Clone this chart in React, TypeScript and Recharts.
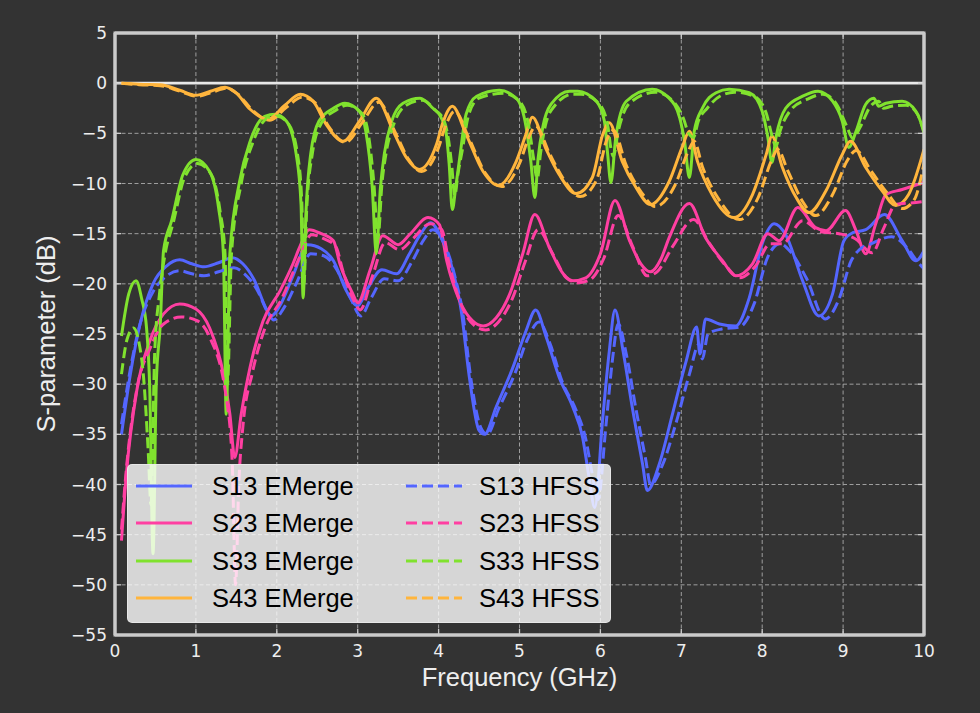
import React from 'react';
import {
  LineChart,
  Line,
  XAxis,
  YAxis,
  CartesianGrid,
  ReferenceLine,
  ReferenceArea,
  Legend,
  Label,
} from 'recharts';

// ---- Frequency sweep data (GHz) and S-parameter magnitudes (dB) ----

const s13EmFreq = [0.08, 0.19, 0.31, 0.47, 0.64, 0.8, 0.95, 1.1, 1.28, 1.45, 1.58, 1.72, 1.87, 1.93, 2.05, 2.2, 2.38, 2.55, 2.7, 2.86, 3.0, 3.12, 3.3, 3.48, 3.64, 3.78, 3.9, 4.03, 4.18, 4.28, 4.38, 4.5, 4.57, 4.71, 4.92, 5.08, 5.2, 5.33, 5.49, 5.66, 5.78, 5.86, 5.93, 6.03, 6.11, 6.18, 6.28, 6.4, 6.52, 6.58, 6.73, 6.89, 7.06, 7.19, 7.23, 7.3, 7.47, 7.67, 7.84, 8.0, 8.15, 8.29, 8.5, 8.7, 8.87, 9.01, 9.12, 9.28, 9.51, 9.73, 9.9, 10.0];
const s13EmDb = [-35, -29, -24, -20, -18.2, -17.6, -18.0, -18.3, -17.9, -17.4, -18.0, -19.6, -22.5, -23.2, -22.0, -19.2, -16.1, -16.5, -17.7, -20.7, -22.2, -20.5, -18.6, -19.0, -17.0, -15.0, -13.9, -15.4, -18.8, -22.7, -29.3, -34.6, -35.0, -32.3, -28.3, -24.7, -22.6, -25.3, -29.3, -32.3, -35.3, -39.3, -42.3, -33.3, -26.7, -22.6, -26.7, -32.6, -37.9, -40.6, -37.9, -33, -27.7, -24.3, -27, -23.5, -24, -24.2, -21.4, -16, -14, -15.1, -19.7, -23.2, -21, -15.7, -14.9, -14.6, -13.1, -15.7, -17.7, -16.7];

const s13HfFreq = [0.08, 0.19, 0.31, 0.47, 0.64, 0.8, 0.95, 1.1, 1.28, 1.47, 1.6, 1.75, 1.9, 1.96, 2.08, 2.25, 2.42, 2.58, 2.72, 2.9, 3.04, 3.16, 3.33, 3.5, 3.67, 3.81, 3.93, 4.06, 4.2, 4.3, 4.4, 4.52, 4.6, 4.74, 4.95, 5.1, 5.24, 5.37, 5.53, 5.7, 5.82, 5.9, 5.97, 6.07, 6.15, 6.22, 6.32, 6.44, 6.56, 6.62, 6.77, 6.93, 7.1, 7.22, 7.26, 7.33, 7.5, 7.72, 7.9, 8.06, 8.22, 8.35, 8.55, 8.78, 8.95, 9.1, 9.2, 9.35, 9.6, 9.8, 9.92, 10.0];
const s13HfDb = [-34, -28.5, -24, -20.8, -19.2, -18.7, -19.0, -19.2, -18.8, -18.4, -19.0, -20.5, -23.0, -23.6, -22.5, -19.8, -17.0, -17.2, -18.3, -21.2, -23.2, -21.5, -19.5, -19.7, -17.8, -15.7, -14.6, -15.8, -19.2, -23, -29.5, -34.3, -35.0, -32.5, -28.8, -25.5, -23.8, -25.8, -29.8, -32.6, -35.5, -39, -41.5, -34, -27.5, -24, -27, -32.5, -37.5, -40.0, -38, -34, -29, -26, -27.5, -25, -24.5, -24.3, -22, -17.5, -16, -16.8, -19.5, -23.5, -21.5, -17.7, -16.6, -16.0, -15.3, -16.5, -17.8, -18.5];

const s23EmFreq = [0.08, 0.14, 0.27, 0.43, 0.6, 0.8, 1.0, 1.17, 1.34, 1.42, 1.48, 1.56, 1.67, 1.83, 2.04, 2.2, 2.28, 2.4, 2.55, 2.7, 2.78, 2.94, 3.0, 3.15, 3.31, 3.5, 3.64, 3.87, 4.01, 4.1, 4.26, 4.42, 4.55, 4.71, 4.88, 5.04, 5.19, 5.37, 5.54, 5.66, 5.82, 6.0, 6.18, 6.36, 6.5, 6.62, 6.75, 6.85, 7.1, 7.3, 7.51, 7.67, 7.88, 8.07, 8.21, 8.44, 8.66, 8.79, 9.03, 9.16, 9.28, 9.4, 9.53, 9.73, 10.0];
const s23EmDb = [-45.6, -39, -30.6, -25.7, -23, -22, -22.5, -24.4, -29, -33, -37.3, -33, -28.3, -23.7, -20.7, -18, -16.4, -14.6, -15.0, -15.7, -18, -21, -21.9, -18.7, -15.2, -16.1, -15.1, -13.4, -14.1, -17.7, -21.7, -23.7, -24.2, -23.4, -21, -17, -13.1, -16.4, -19, -19.7, -19.4, -17, -11.7, -15.7, -18.0, -18.8, -17.5, -15.4, -12, -15.4, -17.7, -19.2, -18, -15, -15.7, -12.4, -14.4, -14.7, -12.7, -14.7, -17, -14.1, -11.1, -10.6, -9.9];

const s23HfFreq = [0.08, 0.14, 0.27, 0.43, 0.6, 0.82, 1.02, 1.17, 1.38, 1.45, 1.49, 1.53, 1.58, 1.7, 1.85, 2.06, 2.22, 2.3, 2.43, 2.58, 2.73, 2.82, 2.96, 3.03, 3.18, 3.34, 3.52, 3.67, 3.9, 4.04, 4.13, 4.29, 4.45, 4.58, 4.74, 4.91, 5.07, 5.23, 5.41, 5.58, 5.72, 5.87, 6.04, 6.22, 6.4, 6.58, 6.7, 6.9, 7.15, 7.35, 7.55, 7.72, 7.92, 8.1, 8.25, 8.5, 8.72, 8.95, 9.15, 9.36, 9.5, 9.65, 9.9, 10.0];
const s23HfDb = [-44.5, -38.5, -30.5, -26.5, -24, -23.3, -23.7, -25.3, -31.6, -38, -50, -40, -34.3, -28.8, -24.5, -21.5, -18.5, -17, -15.1, -15.5, -16.3, -18.8, -21.8, -22.6, -19.3, -15.9, -16.6, -15.6, -14.0, -14.6, -18.0, -22.3, -24.2, -24.6, -23.8, -21.5, -17.8, -14.6, -17.0, -19.4, -19.9, -19.6, -17.5, -13.2, -16.3, -19.2, -18.8, -16.2, -13.6, -16, -18.2, -19.4, -18.2, -16.0, -16.0, -13.7, -14.8, -15.0, -15.5, -16.9, -14.5, -12.1, -11.9, -11.8];

const s33EmFreq = [0.08, 0.17, 0.26, 0.33, 0.39, 0.43, 0.47, 0.51, 0.56, 0.6, 0.7, 0.84, 1.0, 1.17, 1.28, 1.34, 1.375, 1.42, 1.54, 1.67, 1.85, 1.98, 2.12, 2.24, 2.3, 2.325, 2.36, 2.42, 2.52, 2.7, 2.84, 3.02, 3.1, 3.18, 3.23, 3.28, 3.33, 3.42, 3.56, 3.77, 3.93, 4.03, 4.09, 4.13, 4.17, 4.21, 4.26, 4.34, 4.47, 4.75, 4.96, 5.08, 5.14, 5.19, 5.23, 5.29, 5.39, 5.62, 5.72, 5.95, 6.05, 6.09, 6.13, 6.19, 6.32, 6.64, 6.85, 6.98, 7.04, 7.1, 7.16, 7.26, 7.43, 7.59, 7.84, 8.0, 8.07, 8.12, 8.17, 8.29, 8.5, 8.69, 8.87, 8.99, 9.07, 9.16, 9.28, 9.38, 9.44, 9.53, 9.73, 9.9, 10.0];
const s33EmDb = [-25.2, -21, -19.7, -21.5, -24.4, -30.6, -46.9, -30, -24, -16.7, -13.7, -9.1, -7.6, -8.8, -12.4, -17, -33, -17, -9.8, -5.8, -3.3, -3.1, -3.8, -7.1, -12.1, -21.4, -13, -7, -3.8, -2.5, -2.0, -2.8, -4.8, -10.4, -17, -10.5, -7, -3.8, -2.0, -1.5, -2.5, -3.4, -4.8, -8, -12.6, -10.5, -7.5, -3.1, -1.3, -0.7, -1.5, -4.3, -7.8, -11.4, -7.5, -4.3, -2.1, -0.8, -0.8, -1.8, -3.8, -7.1, -9.9, -5.4, -1.8, -0.6, -1.5, -3.45, -5.8, -9.4, -4.8, -2.5, -0.95, -0.6, -0.95, -2.8, -5.4, -7.9, -5.4, -2.5, -1.3, -0.8, -1.8, -3.8, -6.4, -4.8, -2.1, -1.5, -2.3, -2.0, -1.8, -2.8, -4.8];

const s33HfFreq = [0.08, 0.15, 0.23, 0.3, 0.35, 0.41, 0.445, 0.49, 0.55, 0.62, 0.72, 0.86, 1.02, 1.19, 1.3, 1.36, 1.39, 1.44, 1.56, 1.7, 1.88, 2.0, 2.14, 2.26, 2.31, 2.335, 2.37, 2.44, 2.55, 2.73, 2.87, 3.05, 3.13, 3.2, 3.25, 3.3, 3.35, 3.45, 3.6, 3.8, 3.96, 4.06, 4.12, 4.16, 4.2, 4.24, 4.29, 4.37, 4.5, 4.8, 5.0, 5.12, 5.17, 5.22, 5.26, 5.32, 5.43, 5.66, 5.76, 5.99, 6.09, 6.13, 6.16, 6.22, 6.36, 6.68, 6.9, 7.03, 7.09, 7.15, 7.21, 7.32, 7.5, 7.66, 7.9, 8.05, 8.12, 8.17, 8.22, 8.35, 8.56, 8.75, 8.92, 9.04, 9.12, 9.21, 9.33, 9.44, 9.5, 9.6, 9.78, 9.92, 10.0];
const s33HfDb = [-29, -25.5, -24.4, -26, -29, -36.6, -42, -27, -21, -17, -13.9, -9.4, -8.0, -9.1, -12.8, -17, -30, -17, -10, -6, -3.5, -3.3, -4.0, -7.3, -12, -20, -12.5, -7, -4, -2.7, -2.2, -3.0, -5, -10, -15.5, -10, -7, -4, -2.2, -1.7, -2.7, -3.6, -5.5, -8, -11.2, -9, -6.8, -3.2, -1.5, -1.0, -1.8, -4.5, -7.3, -9.5, -7, -4.2, -2.3, -1.1, -1.1, -2.1, -4.2, -6.5, -7.3, -4.8, -2.0, -0.9, -1.8, -3.6, -5.0, -5.4, -3.8, -2.5, -1.2, -0.9, -1.3, -3.0, -5.2, -6.3, -4.8, -2.7, -1.6, -1.1, -2.1, -4.2, -5.5, -4.4, -2.4, -1.8, -2.5, -2.3, -2.2, -3.1, -5.0];

const s43EmFreq = [0.08, 0.3, 0.56, 0.8, 1.0, 1.18, 1.36, 1.5, 1.67, 1.89, 2.1, 2.29, 2.45, 2.61, 2.82, 3.02, 3.23, 3.44, 3.6, 3.76, 3.97, 4.05, 4.17, 4.34, 4.55, 4.74, 4.96, 5.08, 5.16, 5.33, 5.49, 5.7, 5.9, 6.03, 6.11, 6.27, 6.44, 6.62, 6.85, 7.01, 7.1, 7.2, 7.38, 7.65, 7.88, 8.05, 8.12, 8.25, 8.42, 8.58, 8.79, 8.99, 9.09, 9.28, 9.48, 9.65, 9.81, 10.0];
const s43EmDb = [0, -0.1, -0.15, -0.7, -1.2, -0.8, -0.4, -1.0, -2.6, -3.6, -2.2, -1.1, -1.8, -4.1, -5.8, -3.8, -1.5, -4.8, -7.4, -8.6, -6.2, -4.0, -2.3, -5.1, -8.8, -10.2, -7.8, -5.1, -3.4, -6.6, -9.1, -11.0, -9.4, -5.1, -3.95, -7.8, -10.4, -12.1, -9.8, -6.4, -4.8, -7.8, -11.1, -13.4, -11.1, -7.1, -5.3, -8.4, -11.4, -12.9, -10.7, -7.1, -5.8, -8.4, -10.7, -12.2, -11.1, -6.6];

const s43HfFreq = [0.08, 0.3, 0.56, 0.8, 1.02, 1.2, 1.38, 1.52, 1.7, 1.91, 2.12, 2.31, 2.48, 2.64, 2.85, 3.05, 3.26, 3.47, 3.63, 3.79, 4.0, 4.08, 4.2, 4.37, 4.58, 4.78, 5.0, 5.12, 5.2, 5.37, 5.54, 5.75, 5.95, 6.08, 6.16, 6.32, 6.5, 6.68, 6.92, 7.08, 7.16, 7.26, 7.45, 7.72, 7.95, 8.12, 8.19, 8.32, 8.5, 8.66, 8.87, 9.06, 9.16, 9.35, 9.55, 9.73, 9.88, 10.0];
const s43HfDb = [0, -0.15, -0.25, -0.8, -1.3, -0.9, -0.5, -1.1, -2.7, -3.7, -2.4, -1.4, -2.0, -4.3, -5.9, -4.0, -1.9, -5.0, -7.6, -8.8, -6.4, -4.4, -2.8, -5.4, -9.0, -10.3, -8.0, -5.3, -4.3, -7.0, -9.5, -11.3, -9.7, -5.6, -4.7, -8.2, -10.8, -12.3, -10.2, -6.9, -5.8, -8.3, -11.4, -13.6, -11.4, -7.6, -6.6, -8.8, -11.8, -13.2, -11.1, -7.6, -6.7, -8.8, -11.0, -12.5, -11.6, -8.0];

const xTicks = [0, 1, 2, 3, 4, 5, 6, 7, 8, 9, 10];
const yTicks = [-55, -50, -45, -40, -35, -30, -25, -20, -15, -10, -5, 0, 5];

// ---- Series definitions ----

type Series = {
  id: string;
  name: string;
  color: string;
  dashed: boolean;
  freq: number[];
  db: number[];
};

const BLUE = '#5466ff';
const PINK = '#ff3fa2';
const GREEN = '#80e22e';
const ORANGE = '#ffb53d';

const series: Series[] = [
  { id: 's13em', name: 'S13 EMerge', color: BLUE, dashed: false, freq: s13EmFreq, db: s13EmDb },
  { id: 's23em', name: 'S23 EMerge', color: PINK, dashed: false, freq: s23EmFreq, db: s23EmDb },
  { id: 's33em', name: 'S33 EMerge', color: GREEN, dashed: false, freq: s33EmFreq, db: s33EmDb },
  { id: 's43em', name: 'S43 EMerge', color: ORANGE, dashed: false, freq: s43EmFreq, db: s43EmDb },
  { id: 's13hf', name: 'S13 HFSS', color: BLUE, dashed: true, freq: s13HfFreq, db: s13HfDb },
  { id: 's23hf', name: 'S23 HFSS', color: PINK, dashed: true, freq: s23HfFreq, db: s23HfDb },
  { id: 's33hf', name: 'S33 HFSS', color: GREEN, dashed: true, freq: s33HfFreq, db: s33HfDb },
  { id: 's43hf', name: 'S43 HFSS', color: ORANGE, dashed: true, freq: s43HfFreq, db: s43HfDb },
];

const toPoints = (s: Series) => s.freq.map((f, i) => ({ f, v: s.db[i] }));

const BG = '#333333';
const FRAME = '#cbcbcb';
const TEXT = '#eeeeee';
const DASH = '11 5';

const fmt = (v: number) => (v < 0 ? '\u2212' + Math.abs(v) : String(v));

const tickStyle = { fill: TEXT, fontSize: 17, fontFamily: 'DejaVu Sans' };

function LegendBox() {
  const rowH = 37.5;
  const firstRow = 20.5;
  const cols = [series.filter((s) => !s.dashed), series.filter((s) => s.dashed)];
  const colX = [
    { line: 8, text: 84 },
    { line: 278, text: 351 },
  ];
  return (
    <div
      style={{
        position: 'relative',
        width: 484,
        height: 159,
        boxSizing: 'border-box',
        background: 'rgba(255,255,255,0.8)',
        border: '1px solid rgba(235,235,235,0.8)',
        borderRadius: 5,
        fontFamily: '"Liberation Sans", Arial, sans-serif',
      }}
    >
      {cols.map((col, c) =>
        col.map((s, r) => {
          const cy = firstRow + r * rowH;
          return (
            <React.Fragment key={s.id}>
              <svg
                width={56}
                height={10}
                style={{ position: 'absolute', left: colX[c].line, top: cy - 5 }}
              >
                <line
                  x1={0}
                  y1={5}
                  x2={56}
                  y2={5}
                  stroke={s.color}
                  strokeWidth={3.2}
                  strokeDasharray={s.dashed ? DASH : undefined}
                />
              </svg>
              <div
                style={{
                  position: 'absolute',
                  left: colX[c].text,
                  top: cy - 13,
                  height: 26,
                  lineHeight: '26px',
                  fontSize: 25.5,
                  color: '#000000',
                  whiteSpace: 'nowrap',
                }}
              >
                {s.name}
              </div>
            </React.Fragment>
          );
        })
      )}
    </div>
  );
}

export default function App() {
  const frameSeries = series[3];
  return (
    <div
      style={{
        position: 'absolute',
        left: 0,
        top: 0,
        width: 980,
        height: 713,
        background: BG,
      }}
    >
      <LineChart
        width={980}
        height={713}
        margin={{ top: 32, right: 55, bottom: 18, left: 0 }}
      >
        <CartesianGrid
          xAxisId="b"
          yAxisId="l"
          stroke="#9e9e9e"
          strokeWidth={1}
          strokeDasharray="4 2.5"
          horizontalValues={yTicks}
          verticalValues={xTicks}
        />
        <XAxis
          xAxisId="b"
          dataKey="f"
          type="number"
          domain={[0, 10]}
          ticks={xTicks}
          allowDataOverflow
          height={60}
          axisLine={{ stroke: FRAME, strokeWidth: 3 }}
          tickLine={{ stroke: FRAME, strokeWidth: 1.3 }}
          tickSize={-6}
          tickMargin={16}
          tick={tickStyle}
          tickFormatter={fmt}
        >
          <Label
            content={({ viewBox }: any) => (
              <text
                x={viewBox.x + viewBox.width / 2}
                y={viewBox.y + 51}
                textAnchor="middle"
                fill={TEXT}
                fontSize={25.5}
                fontFamily='"Liberation Sans", Arial, sans-serif'
              >
                Frequency (GHz)
              </text>
            )}
          />
        </XAxis>
        <XAxis
          xAxisId="t"
          orientation="top"
          dataKey="f"
          type="number"
          domain={[0, 10]}
          ticks={xTicks}
          allowDataOverflow
          height={1}
          axisLine={{ stroke: FRAME, strokeWidth: 3 }}
          tickLine={{ stroke: FRAME, strokeWidth: 1.3 }}
          tickSize={-6}
          tick={() => <g />}
        />
        <YAxis
          yAxisId="l"
          type="number"
          domain={[-55, 5]}
          ticks={yTicks}
          allowDataOverflow
          width={115}
          axisLine={{ stroke: FRAME, strokeWidth: 3 }}
          tickLine={{ stroke: FRAME, strokeWidth: 1.3 }}
          tickSize={-6}
          tickMargin={14}
          tick={tickStyle}
          tickFormatter={fmt}
        >
          <Label
            content={({ viewBox }: any) => {
              const cx = viewBox.x + 55;
              const cy = viewBox.y + viewBox.height / 2;
              return (
                <text
                  x={cx}
                  y={cy}
                  transform={`rotate(-90, ${cx}, ${cy})`}
                  textAnchor="middle"
                  fill={TEXT}
                  fontSize={25.5}
                  fontFamily='"Liberation Sans", Arial, sans-serif'
                >
                  S-parameter (dB)
                </text>
              );
            }}
          />
        </YAxis>
        <YAxis
          yAxisId="r"
          orientation="right"
          type="number"
          domain={[-55, 5]}
          ticks={yTicks}
          allowDataOverflow
          width={1}
          axisLine={{ stroke: FRAME, strokeWidth: 3 }}
          tickLine={{ stroke: FRAME, strokeWidth: 1.3 }}
          tickSize={-6}
          tick={() => <g />}
        />
        {/* invisible series so the top and right axes get a scale */}
        <Line
          xAxisId="t"
          yAxisId="r"
          data={toPoints(frameSeries)}
          dataKey="v"
          stroke="none"
          dot={false}
          activeDot={false}
          legendType="none"
          isAnimationActive={false}
        />
        <ReferenceArea
          xAxisId="b"
          yAxisId="l"
          x1={0}
          x2={10}
          y1={-55}
          y2={5}
          fill="none"
          stroke={FRAME}
          strokeWidth={3}
          ifOverflow="visible"
        />
        <ReferenceLine
          xAxisId="b"
          yAxisId="l"
          y={0}
          stroke="#e8e8e8"
          strokeWidth={2.6}
        />
        {series.map((s) => (
          <Line
            key={s.id}
            xAxisId="b"
            yAxisId="l"
            data={toPoints(s)}
            dataKey="v"
            name={s.name}
            type="monotone"
            stroke={s.color}
            strokeWidth={3}
            strokeDasharray={s.dashed ? DASH : undefined}
            dot={false}
            activeDot={false}
            isAnimationActive={false}
          />
        ))}
        <Legend
          layout="horizontal"
          verticalAlign="middle"
          align="center"
          wrapperStyle={{ left: 127, top: 464, width: 484, height: 159 }}
          content={() => <LegendBox />}
        />
      </LineChart>
    </div>
  );
}
